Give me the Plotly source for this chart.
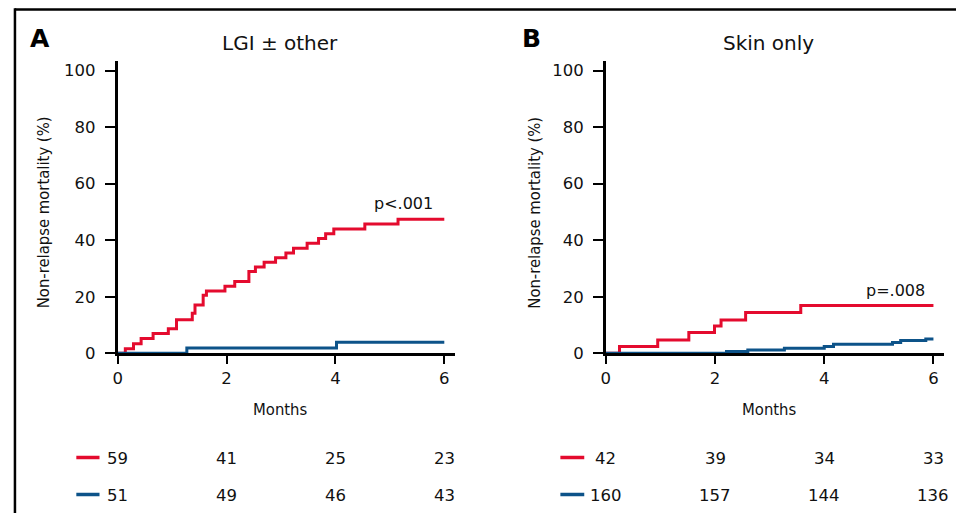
import plotly.graph_objects as go

W, H = 956, 513
# the photographed viewport is slightly taller than 513 px and is squeezed into 513 px,
# so the figure is drawn a bit taller while all positions keep their 513-px fractions
H_RENDER = 523

# ---------------- data ----------------
panel_titles = ["LGI ± other", "Skin only"]
panel_letters = ["A", "B"]
p_values = ["p<.001", "p=.008"]
x_ticks = [0, 2, 4, 6]
y_ticks = [0, 20, 40, 60, 80, 100]

a_red_t = [0, 0.14, 0.29, 0.43, 0.65, 0.93, 1.08, 1.37, 1.42, 1.57, 1.63, 1.97, 2.15,
           2.41, 2.53, 2.69, 2.90, 3.09, 3.23, 3.48, 3.69, 3.82, 3.97, 4.54, 5.15, 6.0]
a_red_v = [0, 1.6, 3.4, 5.2, 7.0, 8.7, 11.9, 14.2, 17.1, 20.5, 22.0, 23.7, 25.4,
           28.9, 30.5, 32.2, 33.8, 35.5, 37.2, 38.9, 40.6, 42.3, 44.0, 45.7, 47.4, 47.4]
a_blue_t = [0, 1.27, 4.02, 6.0]
a_blue_v = [0, 1.9, 3.9, 3.9]

b_red_t = [0, 0.25, 0.95, 1.52, 1.99, 2.11, 2.56, 3.57, 6.0]
b_red_v = [0, 2.4, 4.7, 7.4, 9.7, 11.8, 14.4, 16.9, 16.9]
b_blue_t = [0, 2.21, 2.60, 3.27, 4.00, 4.17, 5.25, 5.40, 5.86, 6.0]
b_blue_v = [0, 0.6, 1.2, 1.8, 2.4, 3.2, 3.8, 4.5, 5.1, 5.1]

a_risk_red = [59, 41, 25, 23]
a_risk_blue = [51, 49, 46, 43]
b_risk_red = [42, 39, 34, 33]
b_risk_blue = [160, 157, 144, 136]

# ---------------- style ----------------
RED = "#E40B2E"
BLUE = "#0D5389"
INK = "#111111"
REG = "DejaVu Sans, Liberation Sans, Arial, sans-serif"
NARROW = "Liberation Sans Narrow, Arial Narrow, DejaVu Sans Condensed, sans-serif"


def PX(px):
    return px / W


def PY(py):
    return 1 - py / H


fig = go.Figure()

for xs, ys, col, xa, ya in [
    (a_red_t, a_red_v, RED, "x", "y"),
    (a_blue_t, a_blue_v, BLUE, "x", "y"),
    (b_red_t, b_red_v, RED, "x2", "y2"),
    (b_blue_t, b_blue_v, BLUE, "x2", "y2"),
]:
    fig.add_trace(go.Scatter(x=xs, y=ys, mode="lines", line=dict(color=col, width=3, shape="hv"),
                             xaxis=xa, yaxis=ya, showlegend=False, hoverinfo="skip"))

xax_common = dict(tickvals=x_ticks, ticks="outside", ticklen=8, tickwidth=2, tickcolor="black",
                  showline=True, linewidth=2.8, linecolor="black", showgrid=False, zeroline=False,
                  tickfont=dict(family=REG, size=16.5, color=INK), fixedrange=True)
yax_common = dict(tickvals=y_ticks, ticks="outside", ticklen=10, tickwidth=2, tickcolor="black",
                  showline=True, linewidth=2.8, linecolor="black", showgrid=False, zeroline=False,
                  ticklabelstandoff=6,
                  tickfont=dict(family=REG, size=16.5, color=INK), range=[0, 103.5], fixedrange=True)

ydom = [PY(353.3), PY(60.7)]

fig.update_layout(
    width=W, height=H_RENDER,
    margin=dict(l=0, r=0, t=0, b=0),
    paper_bgcolor="white", plot_bgcolor="white",
    xaxis=dict(domain=[PX(113.3), PX(452)], range=[0, 6.19], anchor="y", **xax_common),
    yaxis=dict(domain=ydom, anchor="x", **yax_common),
    xaxis2=dict(domain=[PX(604), PX(944.3)], range=[0, 6.2], anchor="y2", **xax_common),
    yaxis2=dict(domain=ydom, anchor="x2", **yax_common),
)

ann = []
shapes = []

# frame (top and left border)
shapes.append(dict(type="line", xref="paper", yref="paper", x0=PX(10), x1=PX(960), y0=PY(9.5), y1=PY(9.5),
                   line=dict(color="black", width=2.5)))
shapes.append(dict(type="line", xref="paper", yref="paper", x0=PX(10), x1=PX(10), y0=PY(8.3), y1=PY(530),
                   line=dict(color="black", width=2.5)))

panels = [
    dict(xref="x", letter_x=23, title_x=276, ytitle_x=39, p_x=432, p_y=203.5,
         risk_red=a_risk_red, risk_blue=a_risk_blue, dash=(71.7, 95)),
    dict(xref="x2", letter_x=517.5, title_x=767.5, ytitle_x=532, p_x=927, p_y=290,
         risk_red=b_risk_red, risk_blue=b_risk_blue, dash=(558.3, 582.3)),
]

for i, p in enumerate(panels):
    ann.append(dict(text="<b>%s</b>" % panel_letters[i], x=PX(p["letter_x"]), y=PY(38.5), xref="paper", yref="paper",
                    xanchor="left", yanchor="middle", showarrow=False,
                    font=dict(family=REG, size=25, color="black")))
    ann.append(dict(text=panel_titles[i], x=PX(p["title_x"]), y=PY(43), xref="paper", yref="paper",
                    xanchor="center", yanchor="middle", showarrow=False,
                    font=dict(family=REG, size=20, color=INK)))
    ann.append(dict(text="Non-relapse mortality (%)", x=PX(p["ytitle_x"]), y=PY(212.5), xref="paper", yref="paper",
                    xanchor="center", yanchor="middle", textangle=-90, showarrow=False,
                    font=dict(family=NARROW, size=16.5, color=INK)))
    ann.append(dict(text=p_values[i], x=PX(p["p_x"]), y=PY(p["p_y"]), xref="paper", yref="paper",
                    xanchor="right", yanchor="middle", showarrow=False,
                    font=dict(family=REG, size=16, color=INK)))
    ann.append(dict(text="Months", x=3, y=PY(409), xref=p["xref"], yref="paper",
                    xanchor="center", yanchor="middle", showarrow=False,
                    font=dict(family=NARROW, size=16.5, color=INK)))
    for t, rv, bv in zip(x_ticks, p["risk_red"], p["risk_blue"]):
        ann.append(dict(text=str(rv), x=t, y=PY(458), xref=p["xref"], yref="paper",
                        xanchor="center", yanchor="middle", showarrow=False,
                        font=dict(family=REG, size=16.5, color=INK)))
        ann.append(dict(text=str(bv), x=t, y=PY(495), xref=p["xref"], yref="paper",
                        xanchor="center", yanchor="middle", showarrow=False,
                        font=dict(family=REG, size=16.5, color=INK)))
    d0, d1 = p["dash"]
    shapes.append(dict(type="line", xref="paper", yref="paper", x0=PX(d0), x1=PX(d1), y0=PY(457.5), y1=PY(457.5),
                       line=dict(color=RED, width=3.5)))
    shapes.append(dict(type="line", xref="paper", yref="paper", x0=PX(d0), x1=PX(d1), y0=PY(494.5), y1=PY(494.5),
                       line=dict(color=BLUE, width=3.5)))

fig.update_layout(annotations=ann, shapes=shapes)

# remove the default page margin so the figure sits exactly at the window origin
fig.write_html("out.html", config={"displayModeBar": False},
               post_script="document.body.style.margin='0';document.body.style.overflow='hidden';")
